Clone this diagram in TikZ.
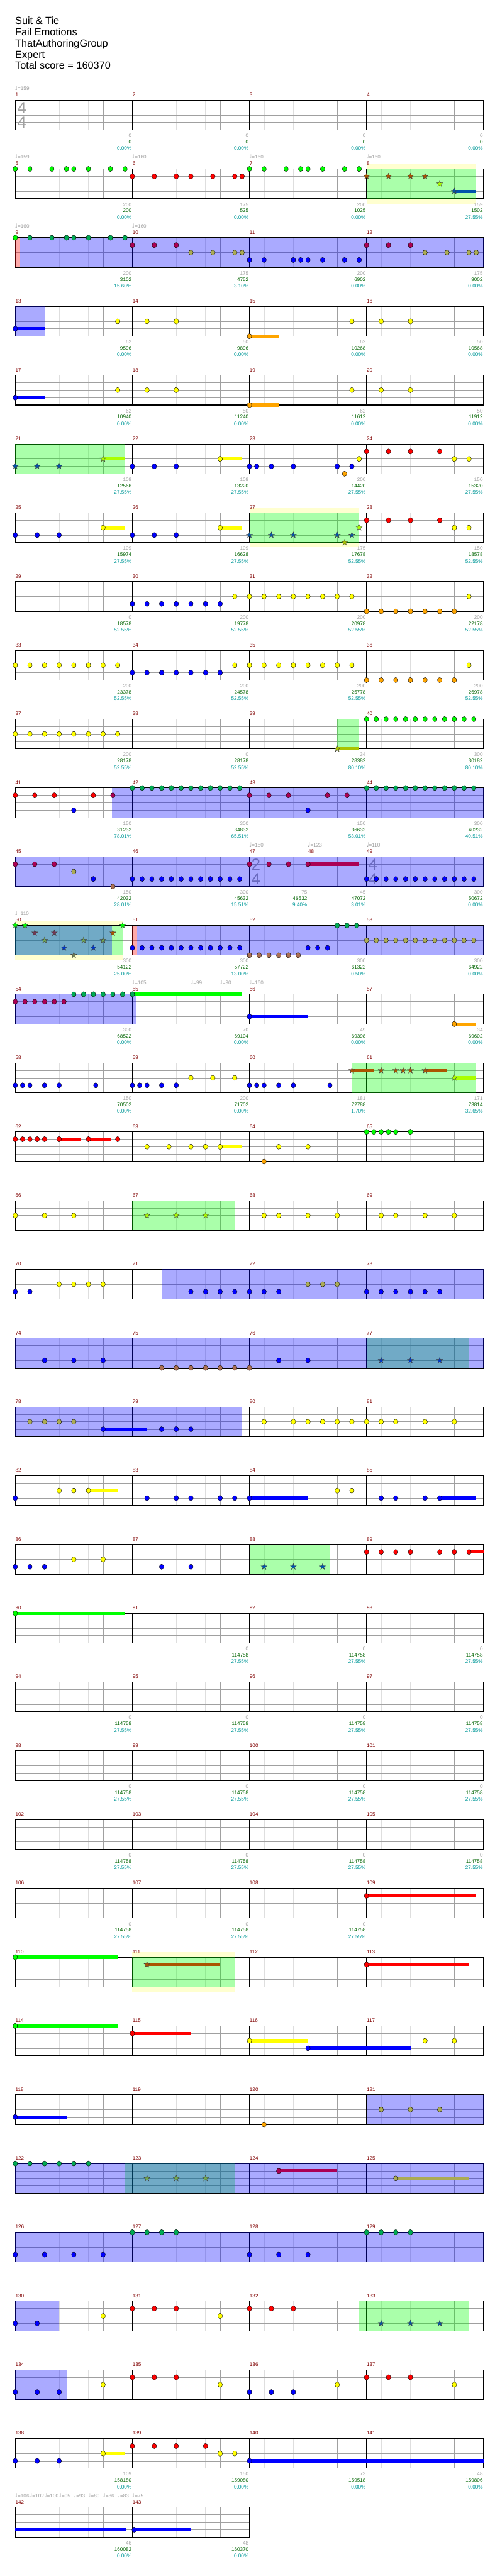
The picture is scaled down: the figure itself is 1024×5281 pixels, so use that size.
\documentclass[tikz,border=0pt]{standalone}
\usepackage{fontspec}
\setmainfont{Liberation Sans}
\newfontfamily\djv{DejaVu Sans}
\definecolor{ng}{RGB}{0,255,0}
\definecolor{nr}{RGB}{255,0,0}
\definecolor{ny}{RGB}{255,255,0}
\definecolor{nb}{RGB}{0,0,255}
\definecolor{no}{RGB}{255,165,0}
\colorlet{og}{ng!67!nb}
\colorlet{or}{nr!67!nb}
\colorlet{oy}{ny!67!nb}
\colorlet{ob}{nb}
\colorlet{oo}{no!67!nb}
\colorlet{sr}{nr!67!ng}
\colorlet{sy}{ny!67!ng}
\colorlet{sb}{nb!67!ng}
\colorlet{so}{no!67!ng}
\colorlet{xr}{sr!67!nb}
\colorlet{xy}{sy!67!nb}
\colorlet{xb}{sb!67!nb}
\colorlet{xo}{so!67!nb}
\definecolor{lgr}{RGB}{222,222,222}
\definecolor{mgr}{RGB}{160,160,160}
\definecolor{mred}{RGB}{128,0,0}
\definecolor{dgr}{RGB}{0,100,0}
\definecolor{teal2}{RGB}{0,153,153}
\definecolor{pyel}{RGB}{255,255,208}
\newcount\tcnt
\tikzset{
 mn/.style={anchor=base west,inner sep=0pt,text=mred,font=\fontsize{10.5}{12}\selectfont},
 gn/.style={anchor=base east,inner sep=0pt,text=mgr,font=\fontsize{10.5}{12}\selectfont},
 dn/.style={gn,text=dgr},
 tn/.style={gn,text=teal2},
 tp/.style={anchor=base west,inner sep=0pt,text=mgr,font=\fontsize{10.5}{12}\selectfont},
 tsg/.style={inner sep=0pt,text=mgr,font=\fontsize{33}{33}\selectfont},
 ttl/.style={anchor=base west,inner sep=0pt,font=\fontsize{21}{24}\selectfont},
}
\newcommand\grid[3]{%
\begin{scope}[shift={(0,{205.3+141*(#1-1)})}]
\fill[white] (31.3,0) rectangle ({31.3+15*#2},61);
\foreach \i in {2,6,...,#2}{\draw[lgr,line width=0.8pt] ({31.3+15*\i},0) -- ({31.3+15*\i},61);}
\foreach \i in {4,8,...,#2}{\draw[mgr,line width=0.8pt] ({31.3+15*\i},0) -- ({31.3+15*\i},61);}
\foreach \l in {1,2,3}{\draw[mgr,line width=0.8pt] (31.3,{15.25*\l}) -- ({31.3+15*#2},{15.25*\l});}
\foreach \i in {#3}{\draw[black,line width=0.8pt] ({31.3+15*\i},0) -- ({31.3+15*\i},61);}
\draw[black,line width=1.3pt] (31.3,0) rectangle ({31.3+15*#2},61);
\end{scope}}
\newcommand\band[3]{\fill[pyel] ({31.3+15*(#2)},{205.3+141*(#1-1)-10}) rectangle ({31.3+15*(#3)},{205.3+141*(#1-1)+71});}
\newcommand\ovd[3]{\fill[nb,opacity=0.333] ({31.3+15*(#2)},{205.3+141*(#1-1)}) rectangle ({31.3+15*(#3)},{205.3+141*(#1-1)+61});}
\newcommand\spz[3]{\fill[ng,opacity=0.333] ({31.3+15*(#2)},{205.3+141*(#1-1)}) rectangle ({31.3+15*(#3)},{205.3+141*(#1-1)+61});}
\newcommand\pnk[3]{\fill[nr,opacity=0.333] ({31.3+15*(#2)},{205.3+141*(#1-1)}) rectangle ({31.3+15*(#3)},{205.3+141*(#1-1)+61});}
\newcommand\nt[4]{\filldraw[fill=#4,draw=black,line width=0.5pt] ({31.3+15*(#2)},{205.3+141*(#1-1)+15.25*(#3)}) ellipse [x radius=4.7pt,y radius=5.3pt];}
\newcommand\st[4]{\path ({31.3+15*(#2)},{205.3+141*(#1-1)+15.25*(#3)}) coordinate (stc);
 \filldraw[fill=#4,draw=black!75,line width=0.5pt] (stc) +(270:6.5) -- +(306:2.6) -- +(342:6.5) -- +(18:2.6) -- +(54:6.5) -- +(90:2.6) -- +(126:6.5) -- +(162:2.6) -- +(198:6.5) -- +(234:2.6) -- cycle;}
\newcommand\Nts[4]{\foreach \p in {#4}{\nt{#1}{\p}{#2}{#3}}}
\newcommand\Trp[5]{\foreach \k in {1,...,#5}{\nt{#1}{#4+(\k-1)*4/3}{#2}{#3}}}
\newcommand\Str[2]{\foreach \p/\l/\c in {#2}{\st{#1}{\p}{\l}{\c}}}
\newcommand\Tl[5]{\fill[#3] ({31.3+15*(#4)},{205.3+141*(#1-1)+15.25*(#2)-3.3}) rectangle ({31.3+15*(#5)},{205.3+141*(#1-1)+15.25*(#2)+3.3});}
\newcommand\mns[2]{\foreach \p/\m in {#2}{\node[mn] (m\m) at ({31.3+15*\p+0.3},{205.3+141*(#1-1)-7.3}) {\m};}}
\newcommand\bots[2]{\foreach \p/\a/\b/\c in {#2}{%
 \node[gn] (a-#1-\p) at ({31.3+15*\p-1.5},{205.3+141*(#1-1)+76.6}) {\a};
 \node[dn] (b-#1-\p) at ({31.3+15*\p-1.5},{205.3+141*(#1-1)+89.3}) {\b};
 \node[tn] (c-#1-\p) at ({31.3+15*\p-1.5},{205.3+141*(#1-1)+102.7}) {\c\%};}}
\newcommand\tempos[2]{\foreach \p/\v in {#2}{\global\advance\tcnt by 1\relax
 \node[tp] (tp\the\tcnt) at ({31.3+15*\p-0.8},{205.3+141*(#1-1)-20.3}) {{\djv\fontsize{12}{12}\selectfont ♩}=\v};}}
\newcommand\tsig[4]{\node[tsg] (ts-#1-#2a) at ({31.3+15*#2+13.4},{205.3+141*(#1-1)+16}) {#3};
 \node[tsg] (ts-#1-#2b) at ({31.3+15*#2+13.4},{205.3+141*(#1-1)+45.7}) {#4};}
\begin{document}
\begin{tikzpicture}[x=1pt,y=-1pt]
\useasboundingbox (0,0) rectangle (1024,5281);
\fill[white] (0,0) rectangle (1024,5281);
\node[ttl] (t1) at (31,49.4) {Suit \& Tie};
\node[ttl] (t2) at (31,72.5) {Fail Emotions};
\node[ttl] (t3) at (31,95.6) {ThatAuthoringGroup};
\node[ttl] (t4) at (31,118.7) {Expert};
\node[ttl] (t5) at (31,141.8) {Total score = 160370};
% ---- row 1
\grid{1}{64}{16,32,48}\tsig{1}{0}{4}{4}
\mns{1}{0/1,16/2,32/3,48/4}
\bots{1}{16/0/0/0.00,32/0/0/0.00,48/0/0/0.00,64/0/0/0.00}
\tempos{1}{0/159}
% ---- row 2
\band{2}{48}{63}\grid{2}{64}{16,32,48}\spz{2}{48}{63}
\Nts{2}{0}{ng}{0,2,5,7,8,10,13,15,32,34,37,39,40,42,45,47}
\Nts{2}{1}{nr}{16,19,22,24,27,30,31}
\Tl{2}{3}{sb}{60}{63}
\Str{2}{48/1/sr,51/1/sr,54/1/sr,56/1/sr,58/2/sy,60/3/sb}
\mns{2}{0/5,16/6,32/7,48/8}
\bots{2}{16/200/200/0.00,32/175/525/0.00,48/200/1025/0.00,64/159/1502/27.55}
\tempos{2}{0/159,16/160,32/160,48/160}
% ---- row 3
\grid{3}{64}{16,32,48}\pnk{3}{0}{0.65}\ovd{3}{0.65}{64}
\Nts{3}{0}{ng}{0}\Nts{3}{0}{og}{2,5,7,8,10,13,15}
\Nts{3}{1}{or}{16,19,22,48,51,54}
\Nts{3}{2}{oy}{24,27,30,31,56,59,62,63}
\Nts{3}{3}{ob}{32,34,38,39,40,42,45,47}
\mns{3}{0/9,16/10,32/11,48/12}
\bots{3}{16/200/3102/15.60,32/175/4752/3.10,48/200/6902/0.00,64/175/9002/0.00}
\tempos{3}{0/160,16/160}
% ---- row 4
\grid{4}{64}{16,32,48}\ovd{4}{0}{4}
\Tl{4}{3}{ob}{0}{4}\Nts{4}{3}{ob}{0}
\Nts{4}{2}{ny}{14,18,22,46,50,54}
\Tl{4}{4}{no}{32}{36}\Nts{4}{4}{no}{32}
\mns{4}{0/13,16/14,32/15,48/16}
\bots{4}{16/62/9596/0.00,32/50/9896/0.00,48/62/10268/0.00,64/50/10568/0.00}
% ---- row 5
\grid{5}{64}{16,32,48}
\Tl{5}{3}{nb}{0}{4}\Nts{5}{3}{nb}{0}
\Nts{5}{2}{ny}{14,18,22,46,50,54}
\Tl{5}{4}{no}{32}{36}\Nts{5}{4}{no}{32}
\mns{5}{0/17,16/18,32/19,48/20}
\bots{5}{16/62/10940/0.00,32/50/11240/0.00,48/62/11612/0.00,64/50/11912/0.00}
% ---- row 6
\grid{6}{64}{16,32,48}\spz{6}{0}{15}
\Tl{6}{2}{sy}{12}{15}
\Str{6}{0/3/sb,3/3/sb,6/3/sb,12/2/sy}
\Nts{6}{3}{nb}{16,19,22,32,33,35,38,44,46}
\Tl{6}{2}{ny}{28}{31}\Nts{6}{2}{ny}{28,47,60,62}
\Nts{6}{4}{no}{45}
\Nts{6}{1}{nr}{48,51,54,58}
\mns{6}{0/21,16/22,32/23,48/24}
\bots{6}{16/109/12566/27.55,32/109/13220/27.55,48/200/14420/27.55,64/150/15320/27.55}
% ---- row 7
\band{7}{32}{47}\grid{7}{64}{16,32,48}\spz{7}{32}{47}
\Nts{7}{3}{nb}{0,3,6,16,19,22}
\Tl{7}{2}{ny}{12}{15}\Tl{7}{2}{ny}{28}{31}\Nts{7}{2}{ny}{12,28,60,62}
\Str{7}{32/3/sb,35/3/sb,38/3/sb,44/3/sb,46/3/sb,45/4/so,47/2/sy}
\Nts{7}{1}{nr}{48,51,54,58}
\mns{7}{0/25,16/26,32/27,48/28}
\bots{7}{16/109/15974/27.55,32/109/16628/27.55,48/175/17678/52.55,64/150/18578/52.55}
% ---- row 8
\grid{8}{64}{16,32,48}
\Nts{8}{3}{nb}{16,18,20,22,24,26,28}
\Nts{8}{2}{ny}{30,32,34,36,38,40,42,44,46,62}
\Nts{8}{4}{no}{48,50,52,54,56,58,60}
\mns{8}{0/29,16/30,32/31,48/32}
\bots{8}{16/0/18578/52.55,32/200/19778/52.55,48/200/20978/52.55,64/200/22178/52.55}
% ---- row 9
\grid{9}{64}{16,32,48}
\Nts{9}{2}{ny}{0,2,4,6,8,10,12,14,30,32,34,36,38,40,42,44,46,62}
\Nts{9}{3}{nb}{16,18,20,22,24,26,28}
\Nts{9}{4}{no}{48,50,52,54,56,58,60}
\mns{9}{0/33,16/34,32/35,48/36}
\bots{9}{16/200/23378/52.55,32/200/24578/52.55,48/200/25778/52.55,64/200/26978/52.55}
% ---- row 10
\grid{10}{64}{16,32,48}\spz{10}{44}{47}
\Nts{10}{2}{ny}{0,2,4,6,8,10,12,14}
\Tl{10}{4}{so}{44}{47}\Str{10}{44/4/so}
\Trp{10}{0}{ng}{48}{12}
\mns{10}{0/37,16/38,32/39,48/40}
\bots{10}{16/200/28178/52.55,32/0/28178/52.55,48/34/28382/80.10,64/300/30182/80.10}
% ---- row 11
\grid{11}{64}{16,32,48}\ovd{11}{13.2}{64}
\Nts{11}{1}{nr}{0,2.667,5.333,10.667}\Nts{11}{3}{nb}{8}
\Nts{11}{1}{or}{13.333,32,34.667,37.333,42.667,45.333}
\Trp{11}{0}{og}{16}{12}\Trp{11}{0}{og}{48}{12}
\Nts{11}{3}{ob}{40}
\mns{11}{0/41,16/42,32/43,48/44}
\bots{11}{16/150/31232/78.01,32/300/34832/65.51,48/150/36632/53.01,64/300/40232/40.51}
% ---- row 12
\grid{12}{64}{16,32,40,48}\tsig{12}{32}{2}{4}\tsig{12}{48}{4}{4}\ovd{12}{0}{64}
\Tl{12}{1}{or}{40}{47}
\Nts{12}{1}{or}{0,2.667,5.333,32,34.667,37.333,40}
\Nts{12}{2}{oy}{8}\Nts{12}{3}{ob}{10.667}\Nts{12}{4}{oo}{13.333}
\Trp{12}{3}{ob}{16}{12}\Trp{12}{3}{ob}{48}{12}
\mns{12}{0/45,16/46,32/47,40/48,48/49}
\bots{12}{16/150/42032/28.01,32/300/45632/15.51,40/75/46532/9.40,48/45/47072/3.01,64/300/50672/0.00}
\tempos{12}{32/150,40/123,48/110}
% ---- row 13
\band{13}{0}{14.667}\grid{13}{64}{16,32,48}\spz{13}{0}{14.667}\ovd{13}{0}{13.2}\pnk{13}{16}{16.65}\ovd{13}{16.65}{64}
\Str{13}{0/0/ng,1.333/0/ng,2.667/1/xr,4/2/xy,5.333/1/xr,6.667/3/xb,8/4/xo,9.333/2/xy,10.667/3/xb,12/2/xy,13.333/1/sr,14.667/0/ng}
\Trp{13}{3}{ob}{16}{12}\Trp{13}{4}{oo}{32}{6}\Trp{13}{3}{ob}{40}{3}\Trp{13}{0}{og}{44}{3}\Trp{13}{2}{oy}{48}{12}
\mns{13}{0/50,16/51,32/52,48/53}
\bots{13}{16/300/54122/25.00,32/300/57722/13.00,48/300/61322/0.50,64/300/64922/0.00}
\tempos{13}{0/110}
% ---- row 14
\grid{14}{64}{16,32,48}\ovd{14}{0}{16.6}
\Trp{14}{1}{or}{0}{6}
\Tl{14}{0}{ng}{16}{31}\Trp{14}{0}{og}{8}{7}
\Tl{14}{3}{nb}{32}{40}\Nts{14}{3}{nb}{32}
\Tl{14}{4}{no}{60}{63}\Nts{14}{4}{no}{60}
\mns{14}{0/54,16/55,32/56,48/57}
\bots{14}{16/300/68522/0.00,32/70/69104/0.00,48/49/69398/0.00,64/34/69602/0.00}
\tempos{14}{16/105,24/99,28/90,32/160}
% ---- row 15
\grid{15}{64}{16,32,48}\spz{15}{46}{63}
\Nts{15}{3}{nb}{0,1,2,4,6,11,16,17,18,20,22,32,33,34,36,38,43}
\Nts{15}{2}{ny}{24,27,30}
\Tl{15}{1}{sr}{46}{49}\Tl{15}{1}{sr}{56}{59}\Tl{15}{2}{sy}{60}{63}
\Str{15}{46/1/sr,50/1/sr,52/1/sr,53/1/sr,54/1/sr,56/1/sr,60/2/sy}
\mns{15}{0/58,16/59,32/60,48/61}
\bots{15}{16/150/70502/0.00,32/200/71702/0.00,48/181/72788/1.70,64/171/73814/32.65}
% ---- row 16
\grid{16}{64}{16,32,48}
\Tl{16}{1}{nr}{6}{9}\Tl{16}{1}{nr}{10}{13}
\Nts{16}{1}{nr}{0,1,2,3,4,6,10,14}
\Tl{16}{2}{ny}{28}{31}\Nts{16}{2}{ny}{18,21,24,26,28,36,40}
\Nts{16}{4}{no}{34}
\Nts{16}{0}{ng}{48,49,50,51,52,54}
\mns{16}{0/62,16/63,32/64,48/65}
% ---- rows 17-34
\grid{17}{64}{16,32,48}\spz{17}{16}{30}
\Nts{17}{2}{ny}{0,4,8,34,36,40,44,50,52,56,60}\Str{17}{18/2/sy,22/2/sy,26/2/sy}
\mns{17}{0/66,16/67,32/68,48/69}
\grid{18}{64}{16,32,48}\ovd{18}{20}{64}
\Nts{18}{3}{nb}{0,2}\Nts{18}{2}{ny}{6,8,10,12}
\Nts{18}{3}{ob}{24,26,28,30,32,34,36,48,50,52,54,56,58}\Nts{18}{2}{oy}{40,42,44}
\mns{18}{0/70,16/71,32/72,48/73}
\grid{19}{64}{16,32,48}\spz{19}{48}{62}\ovd{19}{0}{64}
\Nts{19}{3}{ob}{4,8,12,36,40}\Nts{19}{4}{oo}{20,22,24,26,28,30,32}\Str{19}{50/3/xb,54/3/xb,58/3/xb}
\mns{19}{0/74,16/75,32/76,48/77}
\grid{20}{64}{16,32,48}\ovd{20}{0}{31}
\Nts{20}{2}{oy}{2,4,6,8}\Tl{20}{3}{ob}{12}{18}\Nts{20}{3}{ob}{12,20,22,24}
\Nts{20}{2}{ny}{34,38,40,42,44,46,48,50,52,56,60}
\mns{20}{0/78,16/79,32/80,48/81}
\grid{21}{64}{16,32,48}
\Tl{21}{2}{ny}{10}{14}\Nts{21}{2}{ny}{6,8,10,44,46}
\Tl{21}{3}{nb}{32}{40}\Tl{21}{3}{nb}{58}{63}\Nts{21}{3}{nb}{0,18,22,24,28,30,32,50,52,56,58}
\mns{21}{0/82,16/83,32/84,48/85}
\grid{22}{64}{16,32,48}\spz{22}{32}{43}
\Nts{22}{3}{nb}{0,2,4,20,24}\Nts{22}{2}{ny}{8,12}\Str{22}{34/3/sb,38/3/sb,42/3/sb}
\Tl{22}{1}{nr}{62}{64}\Nts{22}{1}{nr}{48,50,52,54,58,60,62}
\mns{22}{0/86,16/87,32/88,48/89}
\grid{23}{64}{16,32,48}\Tl{23}{0}{ng}{0}{15}\Nts{23}{0}{ng}{0}\mns{23}{0/90,16/91,32/92,48/93}
\bots{23}{32/0/114758/27.55,48/0/114758/27.55,64/0/114758/27.55}
\grid{24}{64}{16,32,48}\mns{24}{0/94,16/95,32/96,48/97}
\bots{24}{16/0/114758/27.55,32/0/114758/27.55,48/0/114758/27.55,64/0/114758/27.55}
\grid{25}{64}{16,32,48}\mns{25}{0/98,16/99,32/100,48/101}
\bots{25}{16/0/114758/27.55,32/0/114758/27.55,48/0/114758/27.55,64/0/114758/27.55}
\grid{26}{64}{16,32,48}\mns{26}{0/102,16/103,32/104,48/105}
\bots{26}{16/0/114758/27.55,32/0/114758/27.55,48/0/114758/27.55,64/0/114758/27.55}
\grid{27}{64}{16,32,48}\Tl{27}{1}{nr}{48}{63}\Nts{27}{1}{nr}{48}\mns{27}{0/106,16/107,32/108,48/109}
\bots{27}{16/0/114758/27.55,32/0/114758/27.55,48/0/114758/27.55}
\band{28}{16}{30}\grid{28}{64}{16,32,48}\spz{28}{16}{30}\Tl{28}{0}{ng}{0}{14}\Nts{28}{0}{ng}{0}
\Tl{28}{1}{sr}{18}{28}\Str{28}{18/1/sr}\Tl{28}{1}{nr}{48}{62}\Nts{28}{1}{nr}{48}\mns{28}{0/110,16/111,32/112,48/113}
\grid{29}{64}{16,32,48}\Tl{29}{0}{ng}{0}{14}\Nts{29}{0}{ng}{0}\Tl{29}{1}{nr}{16}{24}\Nts{29}{1}{nr}{16}
\Tl{29}{2}{ny}{32}{40}\Nts{29}{2}{ny}{32,56,60}\Tl{29}{3}{nb}{40}{54}\Nts{29}{3}{nb}{40}
\mns{29}{0/114,16/115,32/116,48/117}
\grid{30}{64}{16,32,48}\ovd{30}{48}{64}\Tl{30}{3}{nb}{0}{7}\Nts{30}{3}{nb}{0}\Nts{30}{4}{no}{34}\Nts{30}{2}{oy}{50,54,58}
\mns{30}{0/118,16/119,32/120,48/121}
\grid{31}{64}{16,32,48}\spz{31}{15}{30}\ovd{31}{0}{64}
\Nts{31}{0}{og}{0,2,4,6,8,10}\Str{31}{18/2/xy,22/2/xy,26/2/xy}
\Tl{31}{1}{or}{36}{44}\Nts{31}{1}{or}{36}\Tl{31}{2}{oy}{52}{62}\Nts{31}{2}{oy}{52}
\mns{31}{0/122,16/123,32/124,48/125}
\grid{32}{64}{16,32,48}\ovd{32}{0}{64}
\Nts{32}{3}{ob}{0,4,8,12,32,36,40}\Nts{32}{0}{og}{16,18,20,22,48,50,52,54}
\mns{32}{0/126,16/127,32/128,48/129}
\grid{33}{64}{16,32,48}\ovd{33}{0}{6}\spz{33}{47}{62}
\Nts{33}{3}{ob}{0,3}\Nts{33}{2}{ny}{12,28}\Nts{33}{1}{nr}{16,19,22,32,35,38}\Str{33}{50/3/sb,54/3/sb,58/3/sb}
\mns{33}{0/130,16/131,32/132,48/133}
\grid{34}{64}{16,32,48}\ovd{34}{0}{7}
\Nts{34}{3}{ob}{0,3,6}\Nts{34}{2}{ny}{12,28,44,60}\Nts{34}{1}{nr}{16,19,22,48,51,54}\Nts{34}{3}{nb}{32,35,38}
\mns{34}{0/134,16/135,32/136,48/137}
% ---- row 35
\grid{35}{64}{16,32,48}
\Nts{35}{3}{nb}{0,3,6}
\Tl{35}{2}{ny}{12}{15}\Nts{35}{2}{ny}{12,28,30}
\Nts{35}{1}{nr}{16,19,22,26}
\Tl{35}{3}{nb}{32}{64}\Nts{35}{3}{nb}{32}
\mns{35}{0/138,16/139,32/140,48/141}
\bots{35}{16/109/158180/0.00,32/150/159080/0.00,48/73/159518/0.00,64/48/159806/0.00}
% ---- row 36
\grid{36}{32}{16}
\Tl{36}{3}{nb}{0}{15.1}\Tl{36}{3}{nb}{16.25}{24}\Nts{36}{3}{nb}{16.25}
\mns{36}{0/142,16/143}
\bots{36}{16/46/160082/0.00,32/48/160370/0.00}
\tempos{36}{0/106,2/102,4/100,6/95,8/93,10/89,12/86,14/83,16/75}
\end{tikzpicture}
\end{document}
